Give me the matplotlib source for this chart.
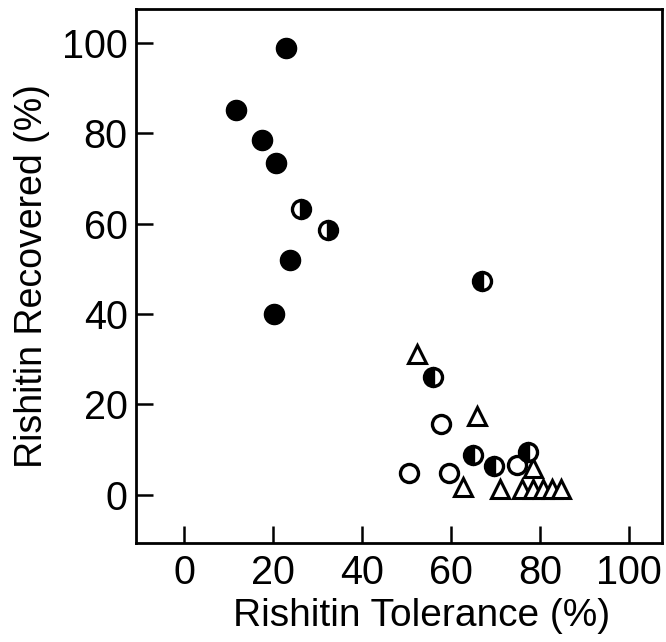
import matplotlib
matplotlib.use("Agg")
import matplotlib.pyplot as plt

plt.rcParams['font.family'] = ['Liberation Sans', 'DejaVu Sans']

# Filled circles
filled_x = [22.9, 11.7, 17.5, 20.7, 23.7, 20.3]
filled_y = [98.9, 85.2, 78.4, 73.4, 52.0, 39.9]

# Half-filled circles, right half black
half_right_x = [26.3, 32.4]
half_right_y = [63.3, 58.5]

# Half-filled circles, left half black
half_left_x = [66.9, 56.0, 65.0, 69.7, 77.4]
half_left_y = [47.2, 26.0, 8.8, 6.4, 9.4]

# Open circles
open_x = [57.7, 50.6, 59.6, 74.8]
open_y = [15.7, 4.9, 4.9, 6.5]

# Open triangles
tri_x = [52.3, 65.8, 62.6, 78.3, 71.1, 75.9, 78.4, 80.7, 82.6, 84.7]
tri_y = [31.2, 17.5, 1.7, 5.8, 1.3, 1.3, 1.3, 1.3, 1.3, 1.3]

xticks = [0, 20, 40, 60, 80, 100]
yticks = [0, 20, 40, 60, 80, 100]

fig = plt.figure(figsize=(6.66, 6.42), dpi=100)
ax = fig.add_axes([136/666, (642-543)/642, (662-136)/666, (543-9)/642])

ax.plot(tri_x, tri_y, linestyle='none', marker='^', ms=13.5, mfc='white',
        mec='black', mew=2.2, zorder=2)
ax.plot(open_x, open_y, linestyle='none', marker='o', ms=13, mfc='white',
        mec='black', mew=2.4, zorder=3)
ax.plot(filled_x, filled_y, linestyle='none', marker='o', ms=14.5, mfc='black',
        mec='black', mew=1.0, zorder=3)
ax.plot(half_right_x, half_right_y, linestyle='none', marker='o', ms=13,
        fillstyle='right', mfc='black', mfcalt='white', mec='black', mew=2.4, zorder=3)
ax.plot(half_left_x, half_left_y, linestyle='none', marker='o', ms=13,
        fillstyle='left', mfc='black', mfcalt='white', mec='black', mew=2.4, zorder=4)

ax.set_xlim(-10.8, 107.4)
ax.set_ylim(-10.7, 107.5)
ax.set_xticks(xticks)
ax.set_yticks(yticks)
ax.set_xticklabels([str(v) for v in xticks])
ax.set_yticklabels([str(v) for v in yticks])

for s in ax.spines.values():
    s.set_linewidth(2.0)
ax.tick_params(axis='both', direction='in', length=12, width=1.8,
               labelsize=28.5, top=False, right=False)
ax.tick_params(axis='x', pad=8)
ax.tick_params(axis='y', pad=6)

ax.set_xlabel('Rishitin Tolerance (%)', fontsize=28)
ax.set_ylabel('Rishitin Recovered (%)', fontsize=27)
ax.xaxis.set_label_coords(0.542, -0.103, transform=ax.transAxes)
ax.yaxis.set_label_coords(-0.198, 0.5, transform=ax.transAxes)
ax.xaxis.label.set_va('top')
ax.yaxis.label.set_va('center')

fig.savefig('out.png', dpi=100)
